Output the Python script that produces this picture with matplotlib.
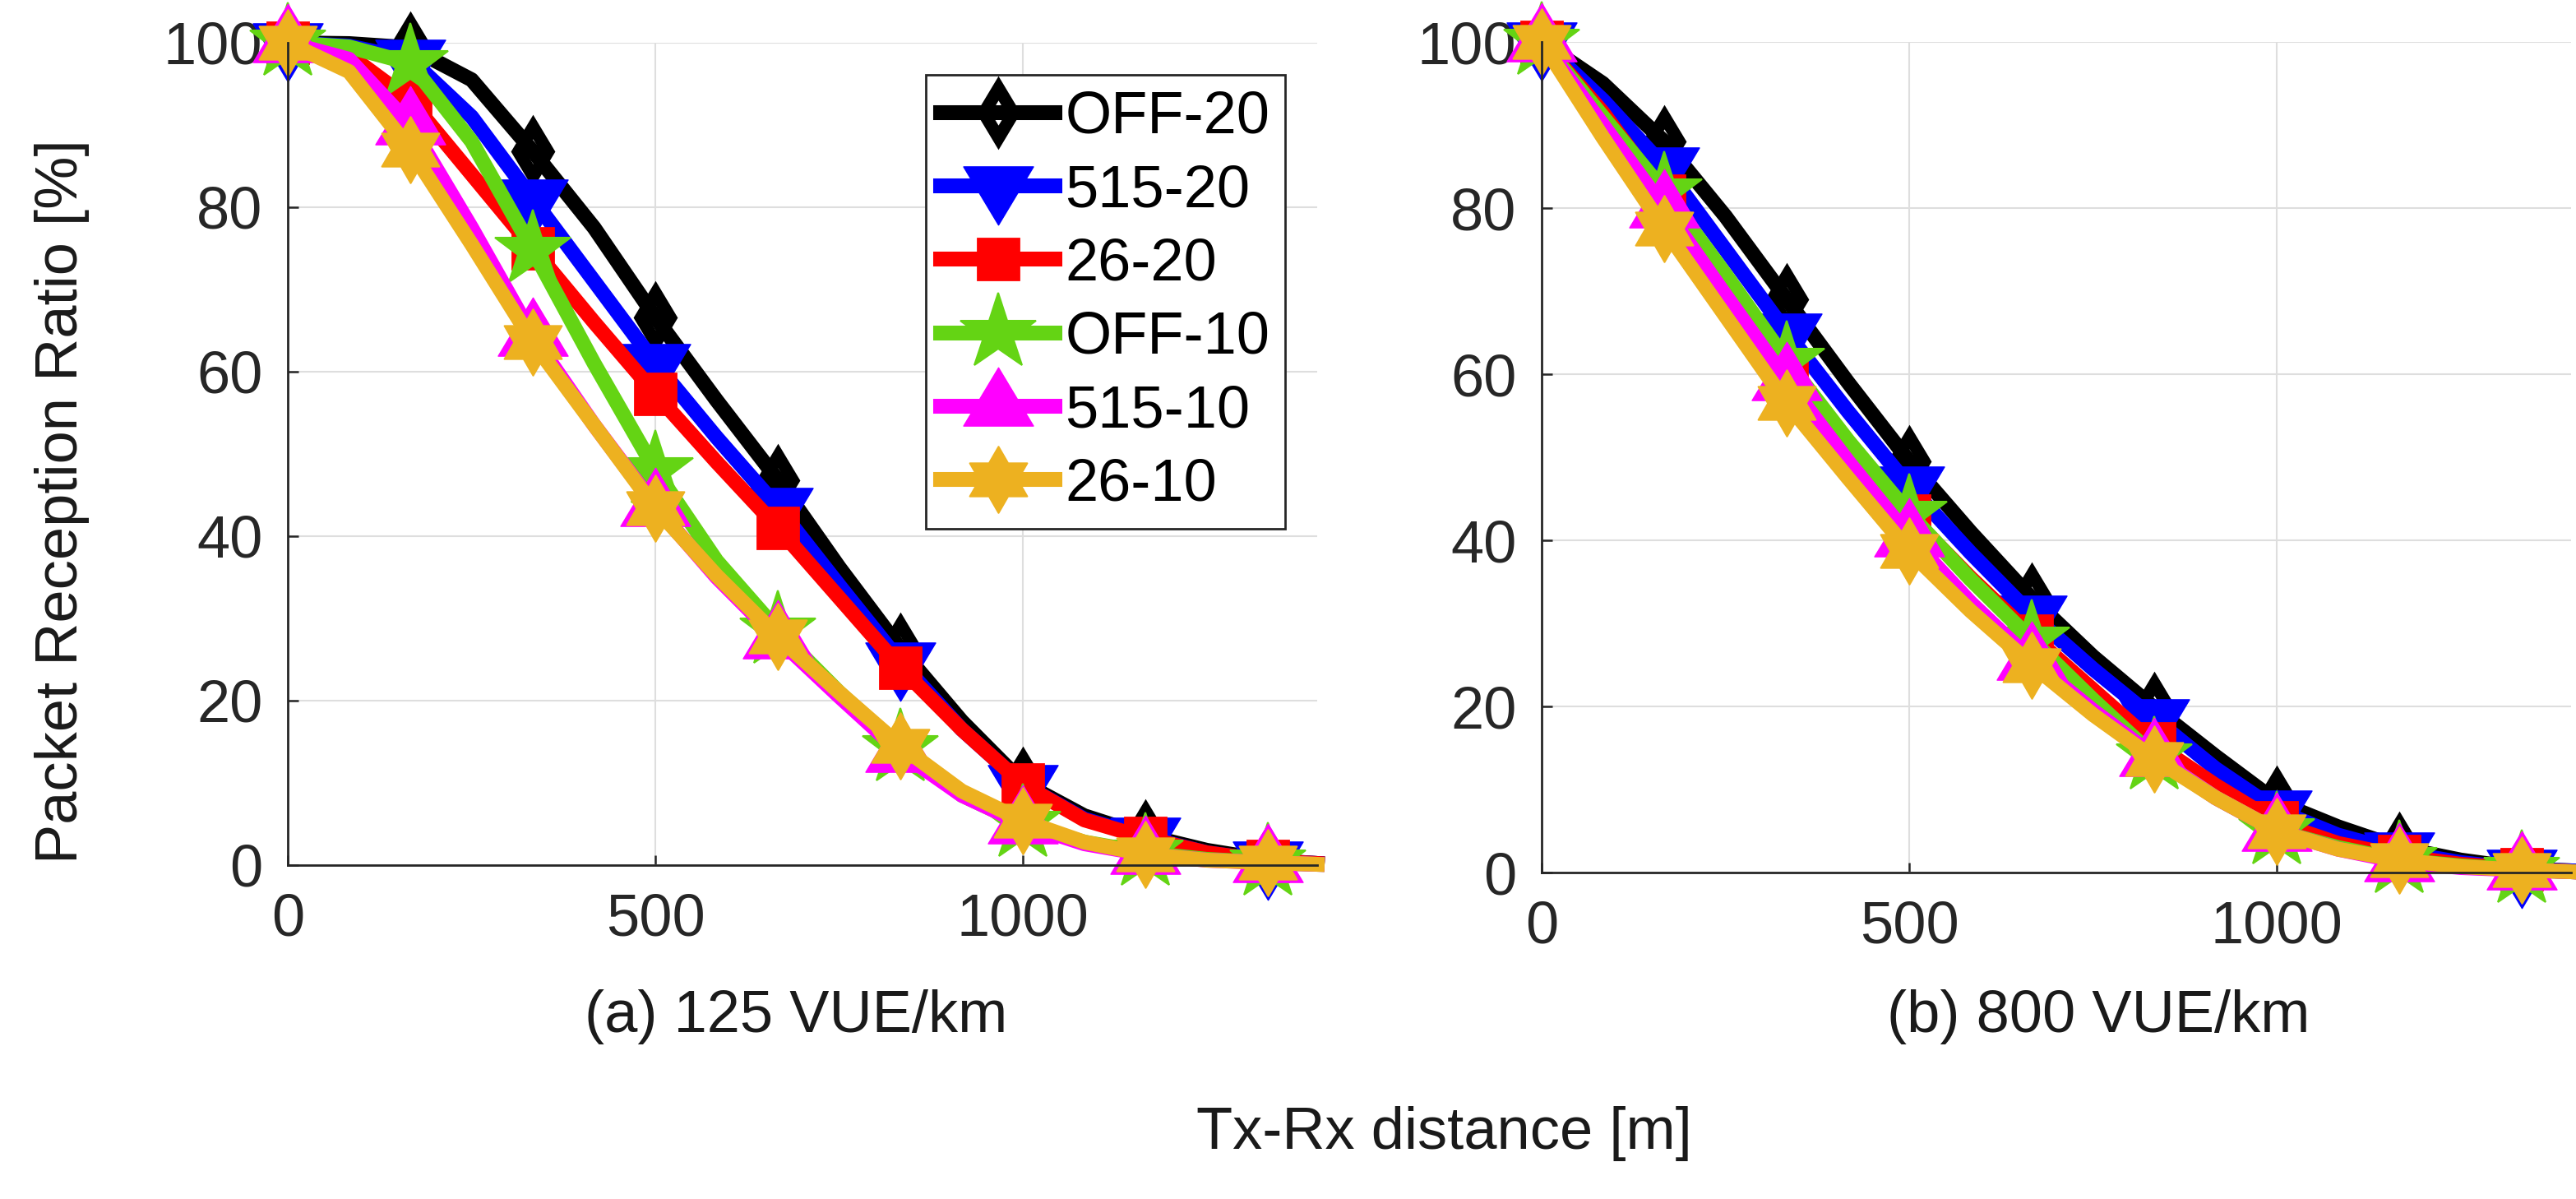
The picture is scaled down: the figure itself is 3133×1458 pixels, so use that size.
import numpy as np
import matplotlib
matplotlib.use("Agg")
import matplotlib.pyplot as plt
from matplotlib.path import Path
from matplotlib.markers import MarkerStyle

plt.rcParams['font.family'] = ['Liberation Sans', 'DejaVu Sans']

# ---------------- data ----------------
distance = [0, 83.3, 166.7, 250, 333.3, 416.7, 500, 583.3, 666.7, 750,
            833.3, 916.7, 1000, 1083.3, 1166.7, 1250, 1333.3, 1400]

labels = ['OFF-20', '515-20', '26-20', 'OFF-10', '515-10', '26-10']

# (a) 125 VUE/km
prr_a_off20 = [100, 99.9, 99.4, 95.5, 86.8, 77.5, 66.6, 56.5, 46.8, 36.2, 26.3, 17.5, 10.0, 6.0, 3.6, 1.8, 0.6, 0.2]
prr_a_515_20 = [100, 99.6, 98.0, 91.0, 81.0, 71.0, 61.0, 52.0, 43.5, 34.0, 24.7, 16.5, 9.8, 5.6, 3.4, 1.5, 0.5, 0.2]
prr_a_26_20 = [100, 98.5, 93.0, 84.0, 75.0, 66.0, 57.3, 49.0, 41.0, 32.5, 24.0, 16.5, 9.8, 5.5, 3.3, 1.5, 0.5, 0.2]
prr_a_off10 = [100, 99.5, 97.5, 88.0, 74.8, 61.0, 48.0, 37.0, 28.5, 21.0, 14.2, 8.5, 5.0, 2.8, 1.5, 0.7, 0.3, 0.1]
prr_a_515_10 = [100, 98.0, 90.0, 77.5, 64.3, 53.5, 43.6, 35.0, 27.5, 20.5, 13.7, 8.5, 5.0, 2.6, 1.3, 0.6, 0.3, 0.1]
prr_a_26_10 = [100, 96.5, 87.0, 75.5, 63.6, 53.5, 43.4, 35.2, 27.8, 21.0, 14.5, 9.0, 5.4, 2.8, 1.3, 0.6, 0.3, 0.1]

# (b) 800 VUE/km
prr_b_off20 = [100, 95.0, 88.0, 79.0, 69.0, 59.0, 49.5, 41.0, 33.0, 26.0, 19.8, 14.0, 8.5, 5.5, 3.0, 1.5, 0.5, 0.2]
prr_b_515_20 = [100, 93.0, 85.0, 75.0, 65.0, 55.5, 46.5, 38.5, 31.0, 24.5, 18.5, 12.5, 7.5, 4.5, 2.5, 1.2, 0.4, 0.2]
prr_b_26_20 = [100, 91.5, 81.5, 71.0, 60.5, 51.5, 43.0, 35.5, 28.5, 22.0, 15.5, 10.5, 6.0, 3.5, 2.0, 1.0, 0.4, 0.1]
prr_b_off10 = [100, 91.0, 82.0, 72.0, 61.6, 52.0, 43.2, 35.3, 28.0, 20.8, 14.0, 9.0, 5.0, 3.0, 1.5, 0.8, 0.3, 0.1]
prr_b_515_10 = [100, 90.0, 80.0, 69.5, 59.2, 49.5, 40.4, 32.5, 25.5, 19.5, 14.0, 9.0, 5.0, 2.8, 1.3, 0.6, 0.3, 0.1]
prr_b_26_10 = [100, 88.5, 77.5, 67.0, 56.5, 47.5, 38.7, 31.5, 25.0, 19.0, 13.7, 9.0, 5.0, 2.8, 1.5, 0.7, 0.3, 0.1]

series_a = [prr_a_off20, prr_a_515_20, prr_a_26_20, prr_a_off10, prr_a_515_10, prr_a_26_10]
series_b = [prr_b_off20, prr_b_515_20, prr_b_26_20, prr_b_off10, prr_b_515_10, prr_b_26_10]

yticks = [0, 20, 40, 60, 80, 100]
xticks = [0, 500, 1000]

# ---------------- styles ----------------
colors = ['#000000', '#0000FF', '#FF0000', '#64D414', '#FF00FF', '#EDB120']

# custom markers
ang = np.pi / 2 + np.arange(12) * np.pi / 6
rad = np.where(np.arange(12) % 2 == 0, 1.0, 1.0 / np.sqrt(3))
hexa_verts = np.column_stack([rad * np.cos(ang), rad * np.sin(ang)])
hexa_verts = np.vstack([hexa_verts, hexa_verts[:1]])
hexagram = Path(hexa_verts, closed=True)

tri_up = Path([(0, 2 / 3), (-0.6, -1 / 3), (0.6, -1 / 3), (0, 2 / 3)], closed=True)
tri_dn = Path([(0, -2 / 3), (-0.6, 1 / 3), (0.6, 1 / 3), (0, -2 / 3)], closed=True)

mk = [
    dict(marker='d', markersize=30.5, markeredgewidth=11, markerfacecolor='none'),
    dict(marker=MarkerStyle(tri_dn, joinstyle='miter'), markersize=68, markeredgewidth=1.0),
    dict(marker='s', markersize=36, markeredgewidth=2),
    dict(marker='*', markersize=70, markeredgewidth=1.5),
    dict(marker=MarkerStyle(tri_up, joinstyle='miter'), markersize=68, markeredgewidth=1.0),
    dict(marker=MarkerStyle(hexagram, joinstyle='miter'), markersize=58, markeredgewidth=1.5),
]

FS = 52
W, H = 3133, 1458
fig = plt.figure(figsize=(W / 100, H / 100), dpi=100)

ax_a = fig.add_axes([350 / W, 1 - 1052 / H, 1252 / W, 1000 / H])
ax_b = fig.add_axes([1875 / W, 1 - 1061 / H, 1252 / W, 1010 / H])

axis_col = '#262626'
for ax, data in [(ax_a, series_a), (ax_b, series_b)]:
    ax.set_xlim(0, 1400)
    ax.set_ylim(0, 100)
    ax.set_xticks(xticks)
    ax.set_yticks(yticks)
    ax.grid(True, color='#dedede', linewidth=1.5)
    ax.set_axisbelow(True)
    for s in ['top', 'right']:
        ax.spines[s].set_visible(False)
    for s in ['left', 'bottom']:
        ax.spines[s].set_color(axis_col)
        ax.spines[s].set_linewidth(2)
    ax.tick_params(direction='in', length=9, width=1.8, color=axis_col,
                   labelsize=FS, labelcolor=axis_col)
    ax.tick_params(axis='x', pad=24)
    ax.tick_params(axis='y', pad=22)
    for vals, c, m, lab in zip(data, colors, mk, labels):
        ax.plot(distance, vals, color=c, linewidth=13, markevery=2,
                markeredgecolor=c, label=lab, clip_on=False,
                solid_joinstyle='round', **m)

leg = ax_a.legend(loc='upper right', bbox_to_anchor=(1563 / W, 1 - 91 / H),
                  bbox_transform=fig.transFigure, fontsize=FS, numpoints=1,
                  handlelength=1.92, handletextpad=0.17, labelspacing=0.31,
                  borderpad=0.26, borderaxespad=0, fancybox=False,
                  framealpha=1, edgecolor=axis_col)
leg.get_frame().set_linewidth(2)
for t in leg.get_texts():
    t.set_color('#000000')

txt_col = '#1a1a1a'
fig.text(968 / W, 1 - 1255 / H, '(a) 125 VUE/km', ha='center', va='baseline',
         fontsize=FS, color=txt_col)
fig.text(2552 / W, 1 - 1255 / H, '(b) 800 VUE/km', ha='center', va='baseline',
         fontsize=FS, color=txt_col)
fig.text(1756 / W, 1 - 1397 / H, 'Tx-Rx distance [m]', ha='center', va='baseline',
         fontsize=FS, color=txt_col)
fig.text(76 / W, 1 - 610 / H, 'Packet Reception Ratio [%]', ha='center', va='center',
         rotation=90, fontsize=FS, color=txt_col)

fig.savefig('out.png', dpi=100)
